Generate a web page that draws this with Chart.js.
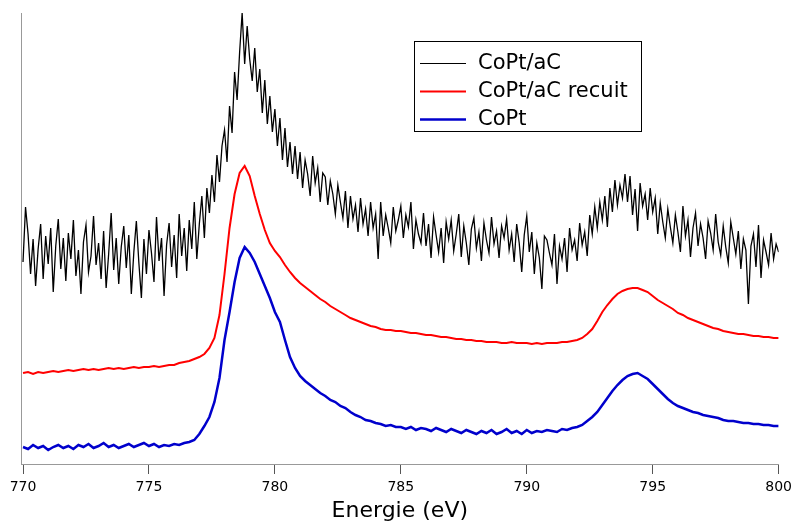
<!DOCTYPE html>
<html>
<head>
<meta charset="utf-8">
<script src="https://cdn.jsdelivr.net/npm/chart.js@4.4.1/dist/chart.umd.min.js"></script>
<style>
  body { margin: 0; background: #fff; }
  #spectre { display: block; }
</style>
</head>
<body>
<canvas id="spectre" width="797" height="524"></canvas>
<script>
// energy grid (eV)
const energyStart = 770;
const stepBlack = 0.1;
const stepColor = 0.2;
const xTicks = [770, 775, 780, 785, 790, 795, 800];

const seriesNames = ['CoPt/aC', 'CoPt/aC recuit', 'CoPt'];
const seriesColors = ['#000000', '#ff0000', '#0000cc'];

// intensity, arbitrary units (curves offset as in the figure)
const copt_aC = [
  202, 257, 230, 190, 225, 178, 215, 240, 185, 228,
  200, 236, 172, 218, 245, 195, 226, 183, 231, 205,
  244, 188, 214, 170, 222, 239, 192, 208, 248, 199,
  221, 185, 233, 176, 210, 251, 194, 226, 180, 217,
  238, 196, 229, 170, 212, 243, 201, 166, 225, 190,
  234, 211, 182, 247, 203, 226, 168, 219, 241, 197,
  229, 186, 250, 208, 236, 193, 244, 215, 262, 205,
  240, 268, 226, 276, 251, 289, 262, 309, 282, 318,
  334, 302, 358, 331, 392, 364, 412, 451, 400, 438,
  405, 383, 416, 372, 395, 351, 384, 340, 368, 332,
  355, 318, 346, 304, 336, 297, 322, 290, 318, 285,
  312, 276, 304, 290, 268, 308, 281, 296, 262, 291,
  287, 259, 283, 270, 250, 279, 262, 246, 273, 236,
  268, 245, 259, 232, 266, 240, 255, 228, 262, 236,
  250, 205, 262, 228, 249, 236, 221, 257, 233, 244,
  258, 226, 249, 237, 262, 215, 244, 230, 221, 251,
  218, 240, 206, 247, 229, 212, 236, 201, 242, 225,
  244, 213, 230, 250, 207, 238, 221, 199, 235, 246,
  216, 232, 203, 241, 224, 211, 247, 220, 233, 206,
  238, 226, 245, 214, 230, 202, 240, 221, 192, 229,
  248, 212, 232, 190, 221, 206, 175, 228, 224, 211,
  199, 230, 180, 218, 205, 226, 192, 236, 214, 224,
  203, 241, 219, 232, 208, 249, 230, 257, 236, 262,
  244, 268, 237, 276, 252, 284, 259, 279, 266, 290,
  262, 288, 249, 275, 233, 281, 258, 270, 244, 276,
  252, 266, 230, 261, 242, 226, 255, 237, 221, 249,
  232, 212, 258, 228, 244, 207, 236, 251, 218, 240,
  226, 205, 243, 231, 214, 250, 222, 209, 238, 217,
  201, 242, 226, 210, 233, 195, 225, 214, 160, 218,
  230, 197, 239, 186, 224, 212, 199, 231, 205, 220,
  212
];

const copt_aC_recuit = [
  91, 92, 90, 92, 91, 92, 93, 92, 93, 94,
  93, 94, 95, 94, 95, 94, 95, 96, 95, 96,
  95, 96, 97, 96, 97, 97, 98, 97, 98, 99,
  99, 101, 102, 103, 105, 107, 110, 116, 126, 149,
  190, 236, 270, 291, 298, 288, 268, 250, 234, 221,
  213, 207, 199, 192, 186, 181, 177, 173, 169, 165,
  162, 158, 155, 152, 149, 146, 144, 142, 140, 138,
  137, 135, 134, 134, 133, 133, 132, 131, 131, 130,
  129, 129, 128, 127, 127, 126, 125, 125, 124, 124,
  123, 123, 122, 122, 122, 121, 121, 122, 121, 121,
  121, 120, 121, 120, 121, 121, 121, 122, 122, 123,
  124, 126, 130, 135, 143, 152, 159, 165, 170, 173,
  175, 176, 176, 174, 172, 168, 164, 161, 158, 155,
  151, 149, 146, 144, 142, 140, 138, 136, 135, 133,
  132, 131, 130, 130, 129, 128, 128, 127, 127, 126,
  126
];

const copt = [
  17, 15, 19, 16, 18, 14, 17, 19, 16, 18,
  15, 19, 17, 20, 16, 18, 21, 17, 19, 16,
  18, 20, 17, 19, 21, 18, 20, 17, 19, 18,
  20, 19, 21, 22, 24, 30, 38, 47, 62, 86,
  124, 152, 182, 206, 217, 211, 202, 190, 178, 166,
  152, 142, 124, 107, 96, 88, 83, 79, 75, 71,
  68, 64, 62, 58, 56, 52, 49, 47, 44, 43,
  41, 40, 38, 39, 37, 37, 35, 37, 34, 36,
  35, 33, 36, 34, 32, 35, 33, 31, 34, 32,
  30, 33, 31, 34, 30, 32, 35, 31, 33, 30,
  34, 31, 33, 32, 34, 33, 32, 35, 34, 36,
  37, 39, 43, 47, 52, 59, 66, 73, 79, 84,
  88, 90, 91, 88, 85, 80, 75, 70, 65, 61,
  58, 56, 54, 52, 51, 49, 48, 47, 46, 44,
  43, 43, 42, 41, 41, 40, 40, 39, 39, 38,
  38
];

function toPoints(values, step) {
  return values.map((v, i) => ({ x: +(energyStart + i * step).toFixed(2), y: v }));
}

// legend drawn as a framed box inside the plot
const boxLegend = {
  id: 'boxLegend',
  afterDraw: (chart) => {
    const { ctx } = chart;
    ctx.save();
    ctx.strokeStyle = '#000';
    ctx.lineWidth = 1;
    ctx.strokeRect(414.5, 41.5, 227, 90);
    ctx.font = '21px "DejaVu Sans"';
    ctx.textBaseline = 'middle';
    chart.data.datasets.forEach((ds, i) => {
      const y = 63.5 + i * 28;
      ctx.strokeStyle = ds.borderColor;
      ctx.lineWidth = i === 0 ? 1 : ds.borderWidth;
      ctx.beginPath();
      ctx.moveTo(420, y);
      ctx.lineTo(466, y);
      ctx.stroke();
      ctx.fillStyle = '#000';
      ctx.fillText(ds.label, 478, y);
    });
    ctx.restore();
  }
};

new Chart(document.getElementById('spectre'), {
  type: 'line',
  data: {
    datasets: [
      { label: seriesNames[0], data: toPoints(copt_aC, stepBlack), borderColor: seriesColors[0], borderWidth: 1.3 },
      { label: seriesNames[1], data: toPoints(copt_aC_recuit, stepColor), borderColor: seriesColors[1], borderWidth: 2 },
      { label: seriesNames[2], data: toPoints(copt, stepColor), borderColor: seriesColors[2], borderWidth: 2.5 }
    ]
  },
  options: {
    responsive: false,
    devicePixelRatio: 1,
    animation: false,
    elements: { point: { radius: 0 }, line: { tension: 0 } },
    layout: { padding: { left: 21, right: 15, top: 13, bottom: 0 } },
    plugins: { legend: { display: false }, tooltip: { enabled: false } },
    scales: {
      x: {
        type: 'linear',
        min: 769.92,
        max: 800,
        afterBuildTicks: (scale) => { scale.ticks = xTicks.map(v => ({ value: v })); },
        afterFit: (scale) => { scale.height = 60; },
        ticks: { color: '#000', font: { family: 'DejaVu Sans', size: 14 }, padding: 5, maxRotation: 0 },
        grid: { display: true, drawOnChartArea: false, drawTicks: true, tickLength: 10, color: '#555' },
        border: { display: true, color: '#999', width: 1 },
        title: { display: true, text: 'Energie (eV)', color: '#000', font: { family: 'DejaVu Sans', size: 22 }, padding: { top: 0, bottom: 0 } }
      },
      y: {
        min: 0,
        max: 451,
        afterFit: (scale) => { scale.width = 0; },
        ticks: { display: false },
        grid: { display: false },
        border: { display: true, color: '#999', width: 1 }
      }
    }
  },
  plugins: [boxLegend]
});
</script>
</body>
</html>
